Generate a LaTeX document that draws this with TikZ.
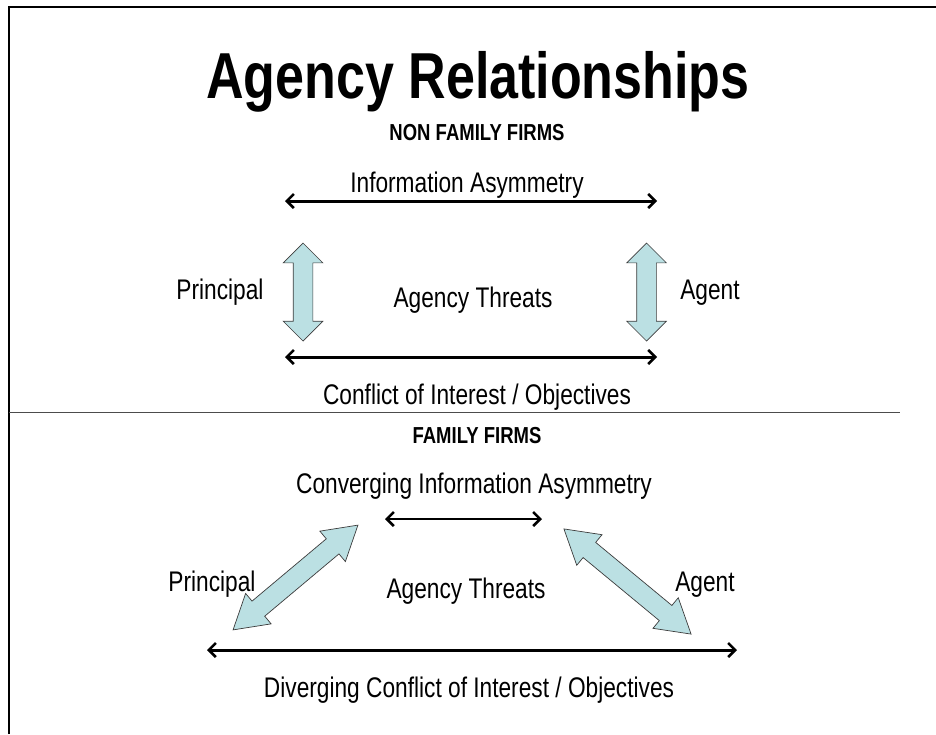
\documentclass[tikz,border=0pt]{standalone}
\usepackage{fontspec}
\usepackage{graphicx}
\setmainfont{Liberation Sans}
\usetikzlibrary{arrows.meta,shapes.arrows}
\definecolor{blockfill}{RGB}{187,224,227}
\definecolor{blockline}{RGB}{60,60,60}
\newcommand{\tall}[1]{\scalebox{1}[1.25]{#1}}
\begin{document}
\begin{tikzpicture}[x=1pt,y=-1pt,
  lbl/.style={inner sep=0pt,anchor=base,font=\fontsize{22.7}{26}\selectfont},
  head/.style={inner sep=0pt,anchor=base,font=\fontsize{18.5}{22}\selectfont\bfseries},
  dbl/.style={<->,>={Straight Barb[length=7pt,width=14pt,line width=2.6pt]},line width=3pt},
  blk/.style={double arrow,draw=blockline,fill=blockfill,line width=0.7pt,
    inner xsep=0pt,inner ysep=9.5pt,minimum width=39pt,double arrow head extend=10pt},
  blkv/.style={blk,double arrow tip angle=90},
  blkd/.style={blk,double arrow tip angle=62}]
\useasboundingbox (0,0) rectangle (936,734);
% frame
\draw[line width=2pt] (9,734) -- (9,7) -- (936,7);
% title
\node[inner sep=0pt,anchor=base,font=\fontsize{52}{60}\selectfont\bfseries] (title) at (478,98) {\tall{Agency Relationships}};
% upper section
\node[head] (nff) at (477,140) {\tall{NON FAMILY FIRMS}};
\node[lbl] (ia) at (467,192) {\tall{Information Asymmetry}};
\coordinate (ia1) at (285,201);
\coordinate (ia2) at (657,201);
\draw[dbl] (ia1) -- (ia2);
\node[blkv,rotate=90,minimum height=98pt] (pa) at (303,292) {};
\node[blkv,rotate=90,minimum height=98pt] (aa) at (646.5,292) {};
\node[lbl] (pr1) at (220,299) {\tall{Principal}};
\node[lbl] (at1) at (473,307) {\tall{Agency Threats}};
\node[lbl] (ag1) at (710,299) {\tall{Agent}};
\coordinate (ci1) at (285,357);
\coordinate (ci2) at (657,357);
\draw[dbl] (ci1) -- (ci2);
\node[lbl] (ci) at (477,404) {\tall{Conflict of Interest / Objectives}};
% separator
\coordinate (s1) at (9,412);
\coordinate (s2) at (900,412);
\draw[line width=0.8pt,black!70] (s1) -- (s2);
% lower section
\node[head] (ff) at (477,443) {\tall{FAMILY FIRMS}};
\node[lbl] (cia) at (474,493) {\tall{Converging Information Asymmetry}};
\coordinate (c1) at (385,519);
\coordinate (c2) at (542,519);
\draw[dbl,line width=2.2pt] (c1) -- (c2);
\node[blkd,rotate=40,minimum height=163pt] (pd) at (295.5,577.5) {};
\node[blkd,rotate=-39.6,minimum height=165pt] (ad) at (627.5,581.5) {};
\node[lbl] (pr2) at (212,591) {\tall{Principal}};
\node[lbl] (at2) at (466,598) {\tall{Agency Threats}};
\node[lbl] (ag2) at (705,591) {\tall{Agent}};
\coordinate (d1) at (207,650);
\coordinate (d2) at (737,650);
\draw[dbl] (d1) -- (d2);
\node[lbl] (dci) at (469,697) {\tall{Diverging Conflict of Interest / Objectives}};
\end{tikzpicture}
\end{document}
